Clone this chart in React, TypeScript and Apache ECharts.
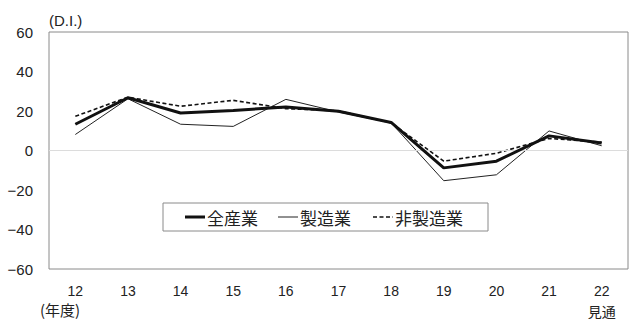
import React, { useEffect, useRef } from "react";
import * as echarts from "echarts";

const categories = ["12", "13", "14", "15", "16", "17", "18", "19", "20", "21", "22\n見通"];
const allIndustries = [13.3, 26.7, 19.0, 20.3, 22.0, 19.9, 14.2, -8.8, -5.4, 7.4, 3.8];
const manufacturing = [8.1, 26.2, 13.3, 12.2, 25.9, 19.5, 14.0, -15.3, -12.3, 9.9, 2.4];
const nonManufacturing = [17.3, 27.0, 22.4, 25.4, 21.2, 20.1, 14.0, -5.4, -1.4, 6.1, 4.2];
const seriesNames = ["全産業", "製造業", "非製造業"];

const FONT = "'Liberation Sans', Arial, 'Noto Sans CJK JP', sans-serif";
const JP_FONT = "'Noto Sans CJK JP', sans-serif";

// line styles shared by the series and the legend swatches
const styles = [
  { color: "#111", width: 3, type: "solid" as any },
  { color: "#222", width: 1, type: "solid" as any },
  { color: "#111", width: 1.6, type: [4, 2.5] as any },
];

// boxed legend drawn below the curves, inside the plot
function legendGraphic() {
  const boxX = 163;
  const boxY = 203;
  const midY = 217;
  const swatchX = [185, 278, 373];
  const children: any[] = [
    {
      type: "rect",
      shape: { x: boxX, y: boxY, width: 325, height: 28 },
      style: { fill: "#fff", stroke: "#8a8a8a", lineWidth: 1 },
    },
  ];
  seriesNames.forEach((name, i) => {
    const s = styles[i];
    children.push({
      type: "line",
      shape: { x1: swatchX[i], y1: midY, x2: swatchX[i] + 20, y2: midY },
      style: { stroke: s.color, lineWidth: s.width, lineDash: Array.isArray(s.type) ? s.type : null },
    });
    children.push({
      type: "text",
      x: swatchX[i] + 22,
      y: midY,
      style: {
        text: name,
        fill: "#222",
        font: `17px ${JP_FONT}`,
        verticalAlign: "middle",
        align: "left",
      },
    });
  });
  return { type: "group", z: 100, children };
}

export default function App() {
  const ref = useRef<HTMLDivElement>(null);

  useEffect(() => {
    if (!ref.current) return;
    const chart = echarts.init(ref.current, null, { renderer: "svg" });
    const dataSets = [allIndustries, manufacturing, nonManufacturing];
    chart.setOption({
      animation: false,
      backgroundColor: "#ffffff",
      grid: {
        left: 49,
        right: 1,
        top: 32,
        bottom: 51,
        show: true,
        borderColor: "#8a8a8a",
        borderWidth: 1,
        backgroundColor: "transparent",
      },
      xAxis: {
        type: "category",
        data: categories,
        boundaryGap: true,
        axisLine: { show: false },
        axisTick: { show: false },
        axisLabel: {
          fontSize: 14,
          color: "#222",
          fontFamily: FONT,
          margin: 11,
          lineHeight: 21,
        },
      },
      yAxis: {
        type: "value",
        min: -60,
        max: 60,
        interval: 20,
        axisLine: { show: false },
        axisTick: { show: false },
        splitLine: { show: false },
        axisLabel: {
          fontSize: 15,
          color: "#222",
          fontFamily: FONT,
          margin: 16,
          formatter: (v: number) => (v < 0 ? "\u2212" + Math.abs(v) : String(v)),
        },
      },
      graphic: [
        {
          type: "text",
          left: 49,
          top: 13,
          style: { text: "(D.I.)", fill: "#222", font: `15px ${FONT}` },
        },
        {
          type: "text",
          left: 40,
          top: 302,
          style: { text: "(年度)", fill: "#222", font: `15px ${JP_FONT}` },
        },
        legendGraphic(),
      ],
      series: [1, 2, 0].map((i) => ({
        name: seriesNames[i],
        type: "line",
        data: dataSets[i],
        symbol: "none",
        lineStyle: styles[i],
        itemStyle: { color: styles[i].color },
        z: 3 + (i === 0 ? 2 : i === 2 ? 1 : 0),
        markLine:
          i === 1
            ? {
                silent: true,
                symbol: "none",
                label: { show: false },
                lineStyle: { color: "#dcdcdc", width: 1, type: "solid" },
                data: [{ yAxis: 0 }],
              }
            : undefined,
      })),
    });
    return () => chart.dispose();
  }, []);

  return <div ref={ref} style={{ width: 629, height: 322, position: "absolute", left: 0, top: 0 }} />;
}
